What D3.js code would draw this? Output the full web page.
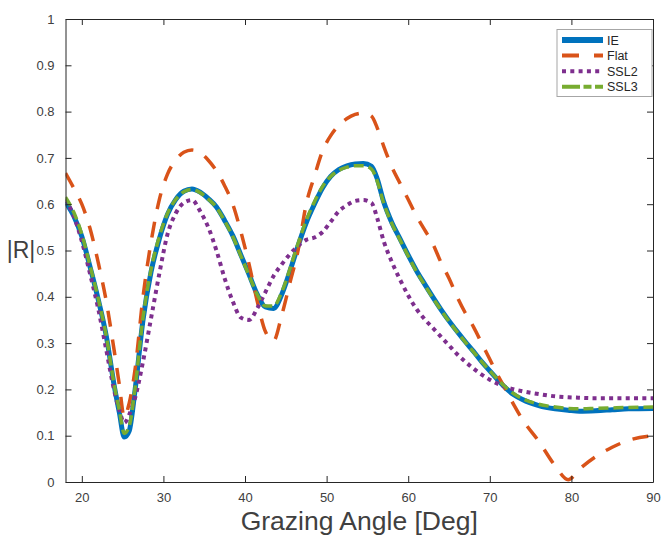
<!DOCTYPE html>
<html>
<head>
<meta charset="utf-8">
<script src="https://cdn.jsdelivr.net/npm/d3@7"></script>
<style>
  body { margin: 0; background: #fff; }
  svg { display: block; }
  text { font-family: "Liberation Sans", Arial, Helvetica, sans-serif; }
</style>
</head>
<body>
<svg id="chart"></svg>
<script>
// grazing angles (deg), shared by every series
var angles = [18, 19, 20, 21, 22, 23, 24, 24.6, 25.2, 25.8, 26.5, 27.5, 28.5, 29.5, 30.5, 31.5, 32.5, 33.5, 34.5, 35.5,
  36.5, 37.5, 38.5, 39.5, 40.5, 41.5, 42.5, 43.5, 44.5, 45.5, 46.5, 47.5, 48.5, 49.5, 50.5, 51.5, 52.5, 53.5, 54.5, 55.5,
  56.2, 57, 58, 59, 60, 61, 62, 63, 64, 65, 66, 67, 68, 69, 70, 71, 72, 73, 74, 76, 78, 79.6, 81, 83, 85, 87, 90]

var ie = [0.605, 0.575, 0.530, 0.465, 0.395, 0.315, 0.205, 0.150, 0.097, 0.110, 0.195, 0.350, 0.455, 0.525, 0.578, 0.610, 0.628, 0.633, 0.626, 0.612,
  0.594, 0.565, 0.532, 0.490, 0.448, 0.405, 0.378, 0.375, 0.405, 0.455, 0.510, 0.560, 0.600, 0.635, 0.660, 0.675, 0.683, 0.687, 0.688, 0.682,
  0.655, 0.605, 0.560, 0.525, 0.490, 0.457, 0.428, 0.400, 0.373, 0.348, 0.325, 0.303, 0.282, 0.260, 0.240, 0.220, 0.202, 0.188, 0.178, 0.165, 0.158, 0.155, 0.153, 0.154, 0.156, 0.158, 0.159]

var flat = [0.667, 0.635, 0.600, 0.548, 0.475, 0.390, 0.280, 0.210, 0.140, 0.170, 0.240, 0.400, 0.520, 0.610, 0.665, 0.695, 0.712, 0.717, 0.711, 0.695,
  0.672, 0.640, 0.600, 0.540, 0.470, 0.390, 0.325, 0.305, 0.360, 0.430, 0.500, 0.600, 0.660, 0.715, 0.748, 0.770, 0.785, 0.794, 0.797, 0.790,
  0.765, 0.725, 0.680, 0.645, 0.610, 0.575, 0.545, 0.515, 0.475, 0.440, 0.400, 0.365, 0.335, 0.300, 0.265, 0.230, 0.198, 0.165, 0.135, 0.088, 0.035, 0.005, 0.028, 0.055, 0.075, 0.090, 0.100]

var ssl2 = [0.610, 0.575, 0.520, 0.450, 0.375, 0.285, 0.195, 0.155, 0.128, 0.145, 0.180, 0.260, 0.355, 0.450, 0.535, 0.580, 0.603, 0.609, 0.585, 0.550,
  0.500, 0.440, 0.390, 0.355, 0.350, 0.375, 0.410, 0.445, 0.470, 0.492, 0.510, 0.523, 0.528, 0.540, 0.562, 0.585, 0.598, 0.607, 0.609, 0.603,
  0.570, 0.520, 0.475, 0.437, 0.403, 0.374, 0.352, 0.333, 0.314, 0.295, 0.276, 0.260, 0.245, 0.232, 0.221, 0.212, 0.205, 0.200, 0.196, 0.190, 0.185, 0.183, 0.182, 0.181, 0.181, 0.181, 0.181]

var ssl3 = [0.615, 0.583, 0.535, 0.468, 0.397, 0.315, 0.207, 0.155, 0.105, 0.120, 0.200, 0.355, 0.460, 0.530, 0.580, 0.610, 0.627, 0.632, 0.625, 0.611,
  0.593, 0.564, 0.530, 0.488, 0.446, 0.405, 0.380, 0.380, 0.410, 0.460, 0.515, 0.565, 0.605, 0.638, 0.660, 0.673, 0.680, 0.683, 0.683, 0.676,
  0.650, 0.602, 0.558, 0.523, 0.488, 0.455, 0.426, 0.398, 0.372, 0.347, 0.324, 0.302, 0.281, 0.260, 0.240, 0.221, 0.204, 0.190, 0.180, 0.168, 0.162, 0.159, 0.158, 0.159, 0.160, 0.161, 0.162]

var xTicks = [20, 30, 40, 50, 60, 70, 80, 90]
var yTicks = [0, 0.1, 0.2, 0.3, 0.4, 0.5, 0.6, 0.7, 0.8, 0.9, 1]
var seriesNames = ["IE", "Flat", "SSL2", "SSL3"]

var dimensions = {
  width: 661,
  height: 537,
  margin: { top: 19, bottom: 55, right: 8, left: 65.5 }
}
var axisColor = "#262626"

var svg = d3.select("#chart")
  .attr("width", dimensions.width)
  .attr("height", dimensions.height)

var x0 = dimensions.margin.left
var x1 = dimensions.width - dimensions.margin.right
var y0 = dimensions.height - dimensions.margin.bottom
var y1 = dimensions.margin.top

var xScale = d3.scaleLinear().domain([18, 90]).range([x0, x1])
var yScale = d3.scaleLinear().domain([0, 1]).range([y0, y1])

// styles per series
var styles = [
  { data: ie, color: "#0072BD", width: 5, dash: null },
  { data: flat, color: "#D95319", width: 3.5, dash: "16,13" },
  { data: ssl2, color: "#7E2F8E", width: 4, dash: "4,4.3" },
  { data: ssl3, color: "#77AC30", width: 3.5, dash: "10,5" }
]

svg.append("clipPath").attr("id", "clip")
  .append("rect")
  .attr("x", x0).attr("y", y1)
  .attr("width", x1 - x0).attr("height", y0 - y1)

var line = d3.line()
  .x((d, i) => xScale(angles[i]))
  .y(d => yScale(d))
  .curve(d3.curveMonotoneX)

var curves = svg.append("g").attr("clip-path", "url(#clip)")
styles.forEach(function (s) {
  curves.append("path")
    .datum(s.data)
    .attr("d", line)
    .style("fill", "none")
    .style("stroke", s.color)
    .style("stroke-width", s.width)
    .style("stroke-dasharray", s.dash)
    .style("stroke-linejoin", "round")
})

// axes (box with inward ticks on all four sides)
var xAxisgen = d3.axisBottom(xScale).tickValues(xTicks).tickSizeInner(-6).tickSizeOuter(0).tickPadding(11)
var yAxisgen = d3.axisLeft(yScale).tickValues(yTicks).tickSizeInner(-6).tickSizeOuter(0).tickPadding(11)
  .tickFormat(d => d3.format("~g")(d))

var xAxis = svg.append("g")
  .attr("transform", `translate(0,${y0})`)
  .call(xAxisgen)
var yAxis = svg.append("g")
  .attr("transform", `translate(${x0},0)`)
  .call(yAxisgen)
var xTop = svg.append("g")
  .attr("transform", `translate(0,${y1})`)
  .call(d3.axisTop(xScale).tickValues(xTicks).tickSizeInner(-6).tickSizeOuter(0).tickFormat(""))
var yRight = svg.append("g")
  .attr("transform", `translate(${x1},0)`)
  .call(d3.axisRight(yScale).tickValues(yTicks).tickSizeInner(-6).tickSizeOuter(0).tickFormat(""))

;[xAxis, yAxis, xTop, yRight].forEach(function (g) {
  g.selectAll("path, line").attr("stroke", axisColor).attr("stroke-width", 1)
  g.selectAll("text").attr("fill", "#404040").style("font-size", "13px")
})

// axis titles
svg.append("text")
  .attr("x", (x0 + x1) / 2)
  .attr("y", 530)
  .attr("text-anchor", "middle")
  .attr("fill", "#404040")
  .style("font-size", "26.5px")
  .text("Grazing Angle [Deg]")

svg.append("text")
  .attr("x", 21)
  .attr("y", 258)
  .attr("text-anchor", "middle")
  .attr("fill", "#404040")
  .style("font-size", "23px")
  .text("|R|")

// legend
var legend = svg.append("g")
legend.append("rect")
  .attr("x", 557).attr("y", 29.5)
  .attr("width", 95).attr("height", 67)
  .attr("fill", "#fff")
  .attr("stroke", "#a6a6a6")
  .attr("stroke-width", 1)

styles.forEach(function (s, i) {
  var ly = 40 + i * 15.6
  legend.append("line")
    .attr("x1", 562).attr("x2", 603)
    .attr("y1", ly).attr("y2", ly)
    .style("stroke", s.color)
    .style("stroke-width", i == 0 ? 6 : 4)
    .style("stroke-dasharray", i == 1 ? "17,15" : i == 2 ? "4,4.3" : i == 3 ? "18,3.5,8,3.5" : null)
  legend.append("text")
    .attr("x", 607).attr("y", ly + 4.5)
    .attr("fill", "#262626")
    .style("font-size", "12.5px")
    .text(seriesNames[i])
})
</script>
</body>
</html>
